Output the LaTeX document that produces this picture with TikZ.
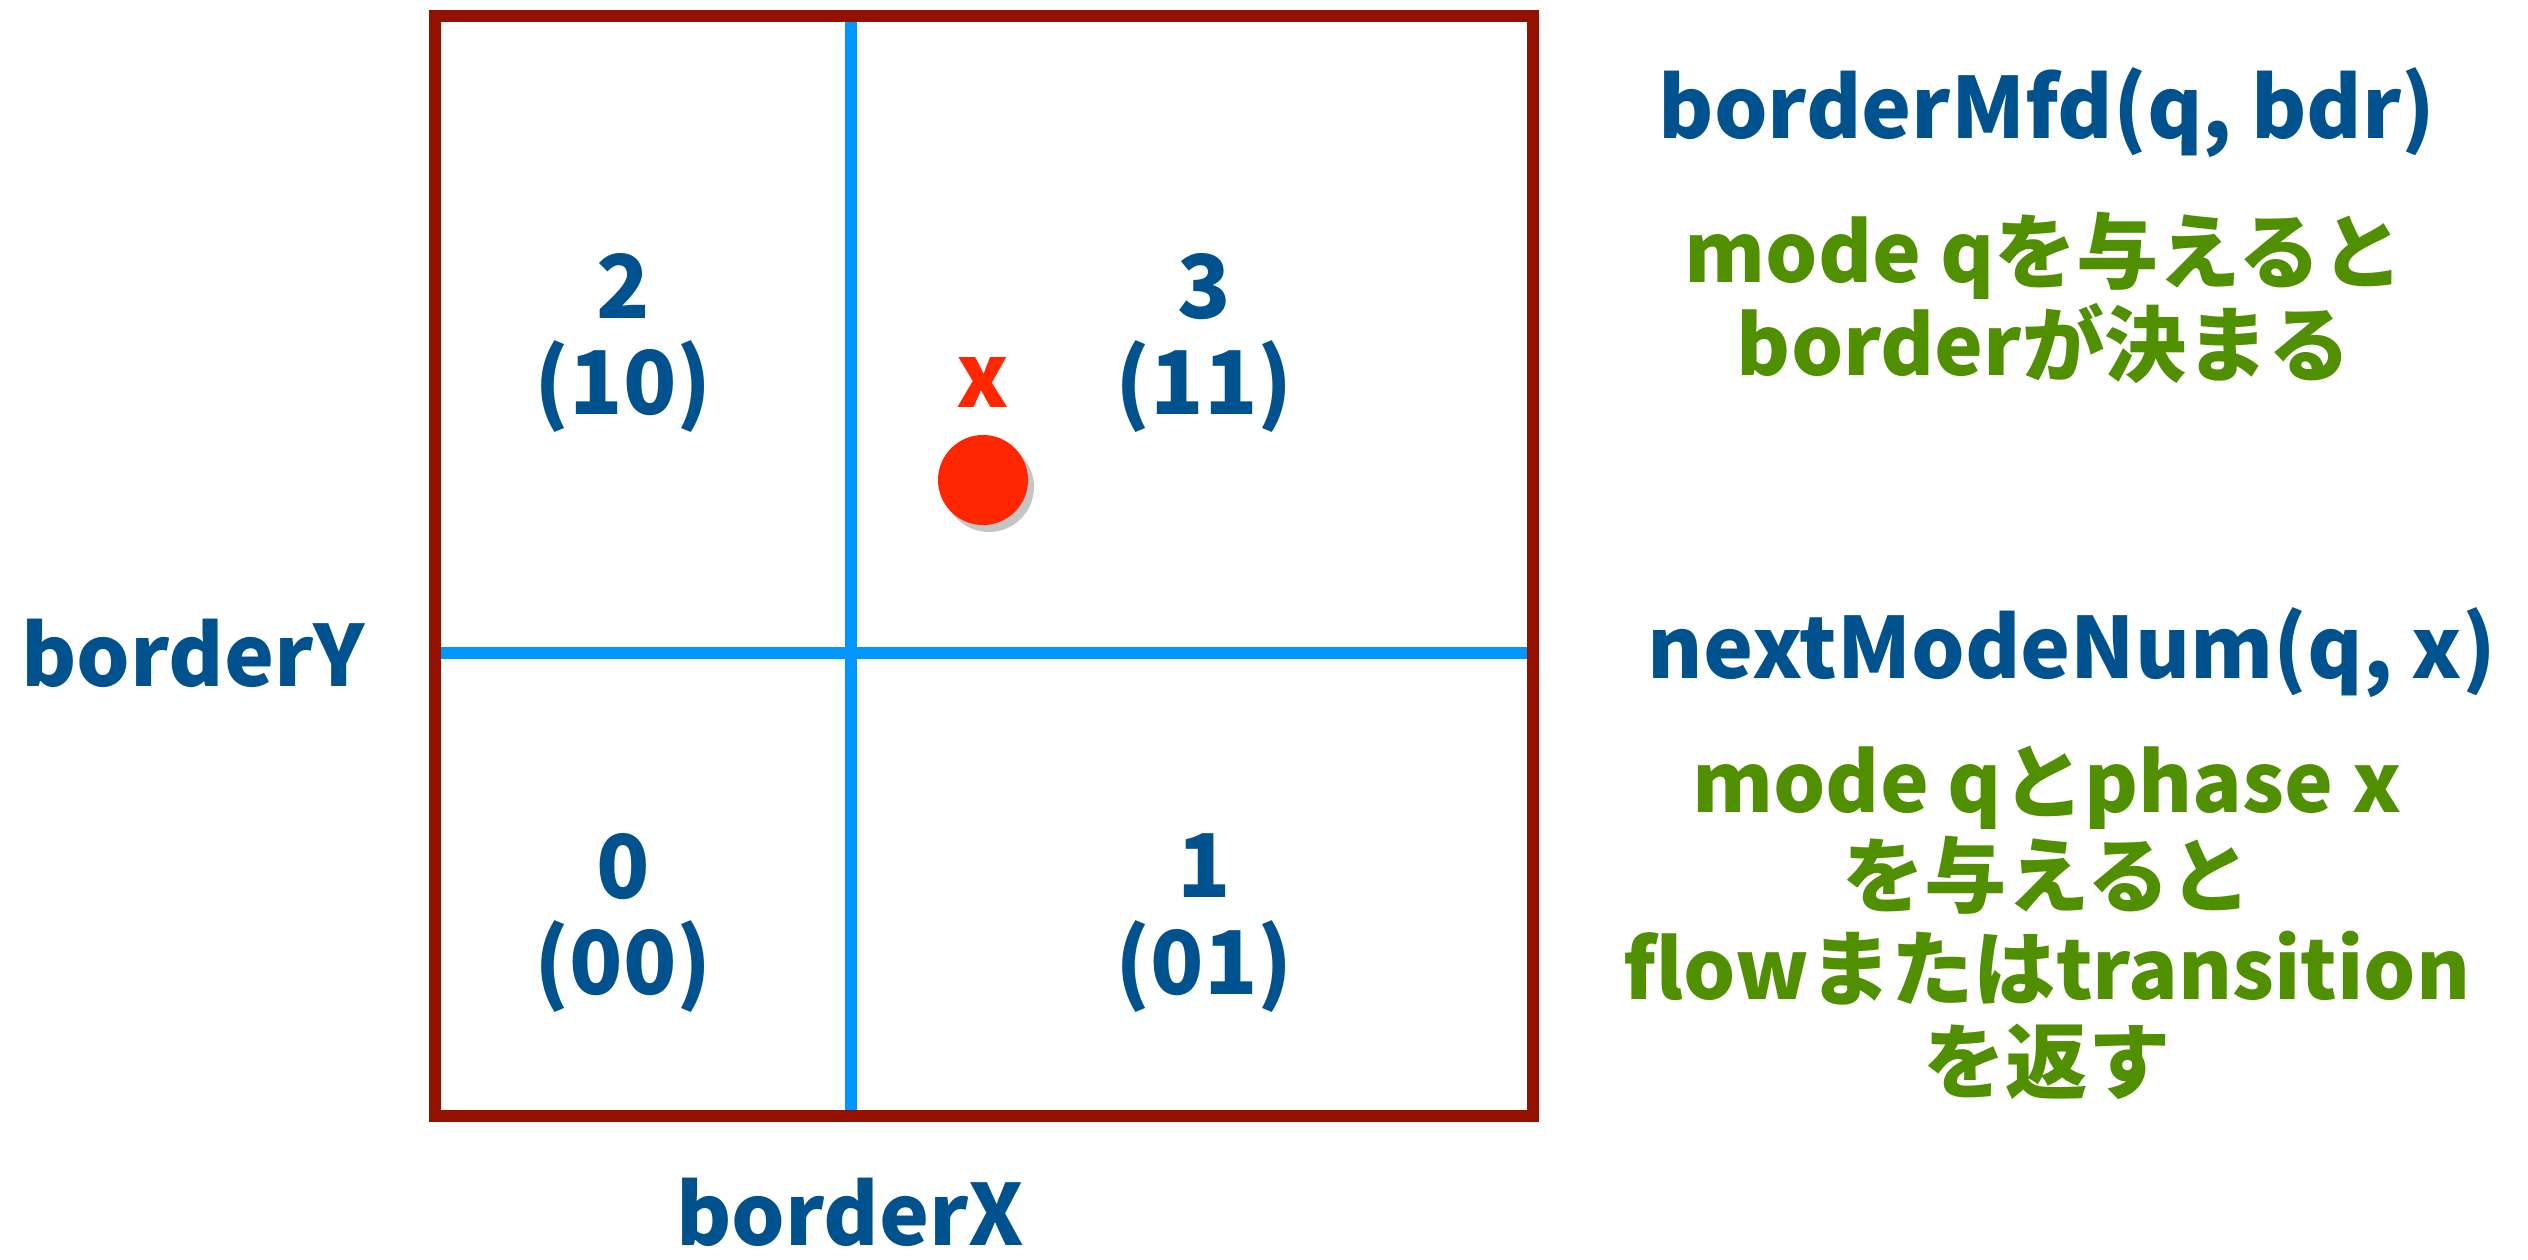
\documentclass[tikz,border=0pt]{standalone}
\usepackage{fontspec}
\setmainfont{Noto Sans CJK JP}
\usepackage{tikz}
\usetikzlibrary{positioning}
\definecolor{ModeBlue}{RGB}{0,82,143}
\definecolor{NoteGreen}{RGB}{79,143,0}
\definecolor{FrameRed}{RGB}{148,17,0}
\definecolor{LineBlue}{RGB}{0,150,255}
\definecolor{DotRed}{RGB}{255,38,0}
\tikzset{
  btxt/.style={text=ModeBlue,font=\fontsize{24}{26}\selectfont\bfseries,inner sep=0pt},
  gtxt/.style={text=NoteGreen,font=\fontsize{23.4}{26.5}\selectfont\bfseries,align=center,inner sep=0pt},
  qtxt/.style={text=ModeBlue,font=\fontsize{25}{27.5}\selectfont\bfseries,align=center,inner sep=0pt},
  frame/.style={draw=FrameRed,line width=3.2pt},
  bline/.style={draw=LineBlue,line width=3.3pt},
}
\begin{document}
\begin{tikzpicture}[x=0.01cm,y=-0.01cm]
  \useasboundingbox (0,0) rectangle (2528,1259);
  % border lines
  \coordinate (tl) at (435,16);  \coordinate (br) at (1533,1116);
  \coordinate (vx) at (851,0);   \coordinate (hy) at (0,653);
  \draw[bline] (vx |- tl) -- (vx |- br);
  \draw[bline] (tl |- hy) -- (br |- hy);
  \draw[frame] (tl) rectangle (br);
  % modes
  \node[qtxt] (m2) at (623,343) {2\\(10)};
  \node[qtxt] (m3) at (1204,343) {3\\(11)};
  \node[qtxt] (m0) at (623,923) {0\\(00)};
  \node[qtxt] (m1) at (1204,923) {1\\(01)};
  % phase
  \fill[black!45,opacity=0.5] (989,487) circle (45);
  \node[circle,fill=DotRed,minimum size=0.9cm,inner sep=0pt] (dot) at (983,480) {};
  \node[text=DotRed,font=\fontsize{25}{26}\selectfont\bfseries,inner sep=0pt] (xl) at (983,382) {x};
  % axes
  \node[btxt] (bY) at (193,653) {borderY};
  \node[btxt] (bX) at (850,1212) {borderX};
  % functions
  \node[btxt] (mfd) at (2047,113) {borderMfd(q, bdr)};
  \node[gtxt] (mfdn) at (2044,298) {mode qを与えると\\borderが決まる};
  \node[btxt] (nmn) at (2072,653) {nextModeNum(q, x)};
  \node[gtxt] (nmnn) at (2047,923) {mode qとphase x\\を与えると\\flowまたはtransition\\を返す};
\end{tikzpicture}
\end{document}
